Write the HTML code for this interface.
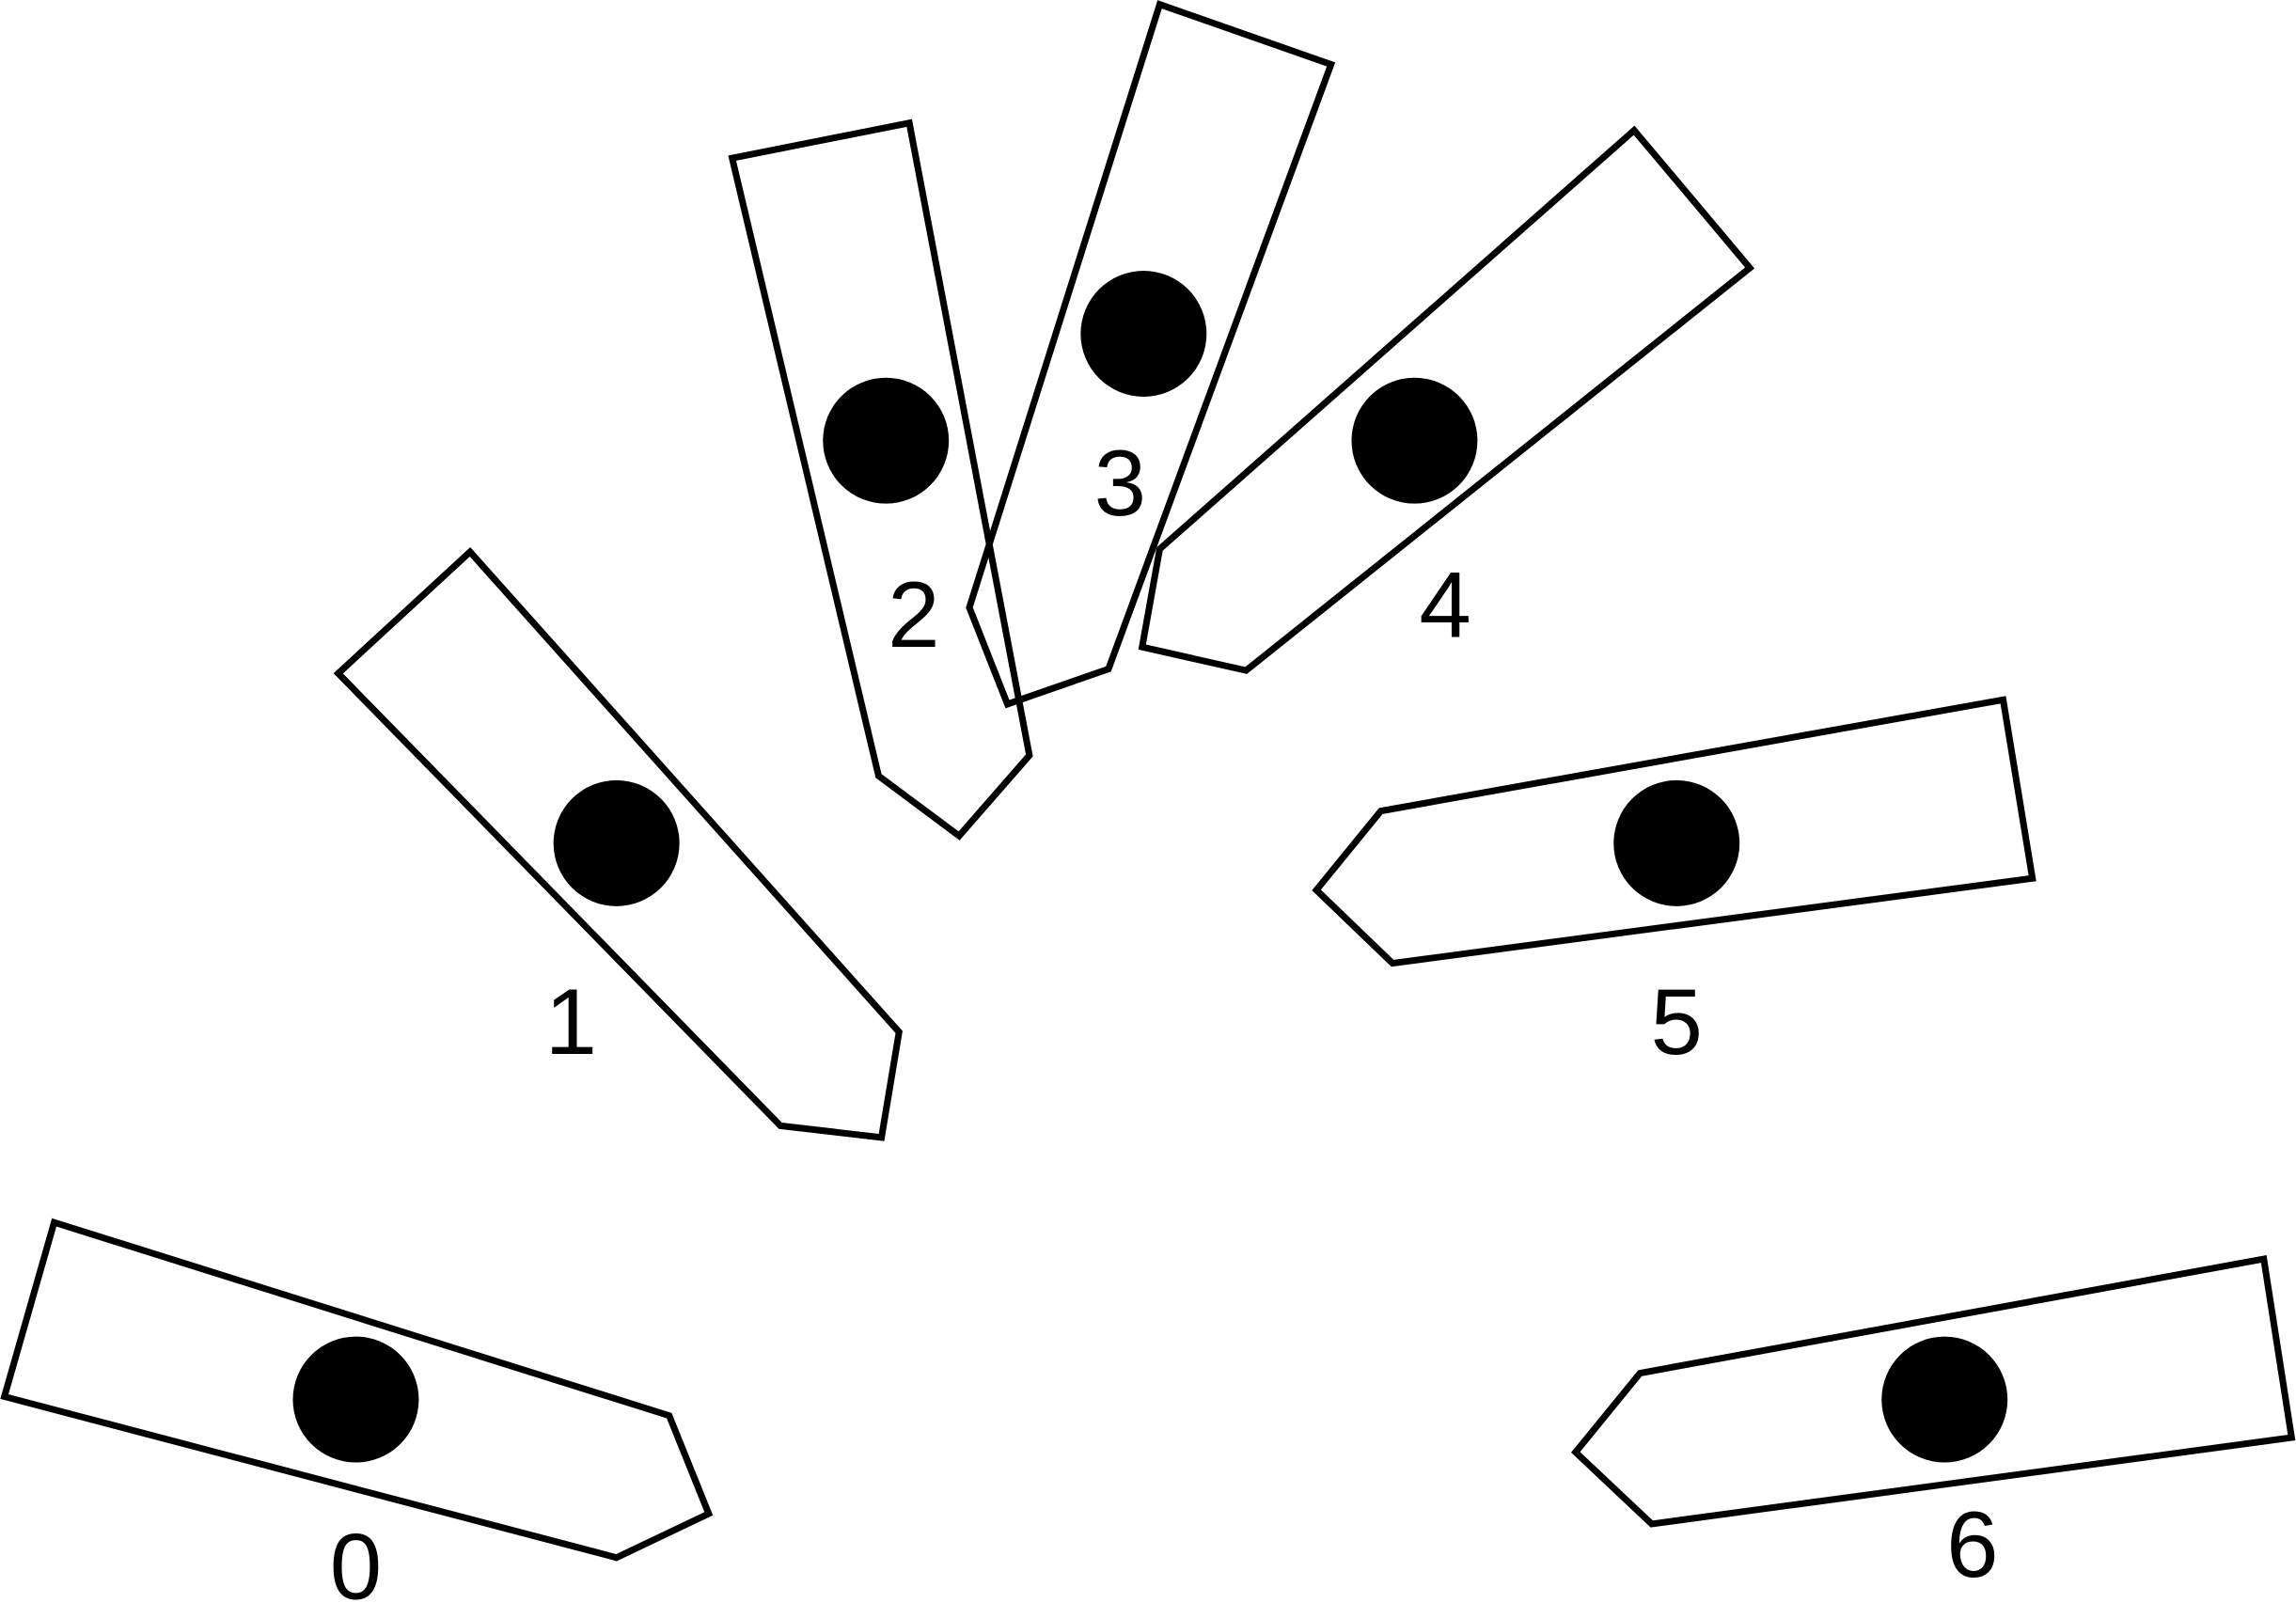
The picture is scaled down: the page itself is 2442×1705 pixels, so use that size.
<!DOCTYPE html>
<html>
<head>
<meta charset="utf-8">
<style>
html,body{margin:0;padding:0;background:#fff;}
svg{display:block;}
</style>
</head>
<body>
<svg id="chart" width="2442" height="1705" viewBox="0 0 1568 1095" preserveAspectRatio="none" xmlns="http://www.w3.org/2000/svg"></svg>
<script>
const labels = ["0","1","2","3","4","5","6"];
const outlines = [
  [[37,835],[457,967],[484,1034],[421,1064],[3,954]],
  [[321,377],[614,705],[602,777],[533,769],[231,460]],
  [[500,108],[621,84],[703,516],[655,571],[600,530]],
  [[792,3],[909,44],[757,457],[688,481],[662,415]],
  [[1116,89],[1195,183],[851,458],[780,442],[792,375]],
  [[1368,478],[1388,600],[951,658],[899,608],[943,554]],
  [[1546,860],[1565,982],[1128,1041],[1076,992],[1120,938]]
];
const dots = [[243,956],[421,576],[605,301],[781,228],[966,301],[1145,576],[1328,956]];
const labelPos = [[243,1092],[390,720],[624,442],[765,352],[987,435],[1145,720],[1347,1077]];

const svg = document.getElementById('chart');
const NS = 'http://www.w3.org/2000/svg';
for (let i = 0; i < labels.length; i++) {
  const g = document.createElementNS(NS, 'g');
  
  
  const p = document.createElementNS(NS, 'polygon');
  
  
  p.setAttribute('points', outlines[i].map(q => q.join(',')).join(' '));
  p.setAttribute('fill', 'none');
  p.setAttribute('stroke', '#000');
  p.setAttribute('stroke-width', '4.5');
  g.appendChild(p);
  const c = document.createElementNS(NS, 'circle');
  
  
  c.setAttribute('cx', dots[i][0]);
  c.setAttribute('cy', dots[i][1]);
  c.setAttribute('r', 43);
  c.setAttribute('fill', '#000');
  g.appendChild(c);
  const t = document.createElementNS(NS, 'text');
  
  
  t.setAttribute('x', labelPos[i][0]);
  t.setAttribute('y', labelPos[i][1]);
  t.setAttribute('text-anchor', 'middle');
  t.setAttribute('font-family', '"Liberation Sans", sans-serif');
  t.setAttribute('font-size', '64');
  t.textContent = labels[i];
  g.appendChild(t);
  svg.appendChild(g);
}
</script>
</body>
</html>
